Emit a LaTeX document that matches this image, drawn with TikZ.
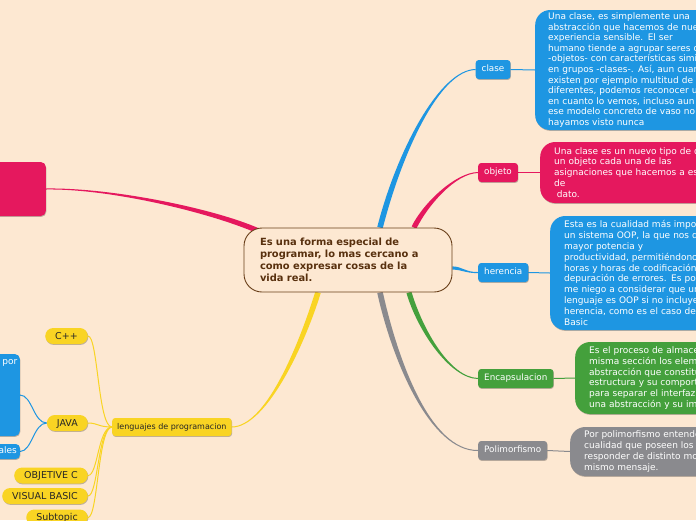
\documentclass[tikz,border=0pt]{standalone}
\usepackage{fontspec}
\setmainfont{DejaVu Sans}
\usetikzlibrary{calc,shadows}
\definecolor{bgc}{RGB}{253,232,210}
\definecolor{cblue}{RGB}{30,150,226}
\definecolor{cpink}{RGB}{229,24,94}
\definecolor{cgreen}{RGB}{68,160,60}
\definecolor{cgray}{RGB}{138,138,142}
\definecolor{cyel}{RGB}{249,212,35}
\definecolor{cbrown}{RGB}{105,62,25}
\definecolor{ctext}{RGB}{88,48,14}
\pgfdeclarelayer{back}
\pgfsetlayers{back,main}
\newcommand\mytaper[6]{%
  \path ($(#2)!#6!90:(#3)$) coordinate (tsl)
        ($(#2)!#6!-90:(#3)$) coordinate (tsr)
        ($(#5)!0.5pt!-90:(#4)$) coordinate (tel)
        ($(#5)!0.5pt!90:(#4)$) coordinate (ter);
  \fill[#1] (tsl) .. controls ($(#3)+(tsl)-(#2)$) and ($(#4)+(tel)-(#5)$) .. (tel)
    -- (ter) .. controls ($(#4)+(ter)-(#5)$) and ($(#3)+(tsr)-(#2)$) .. (tsr) -- cycle;
}
\tikzset{
  shad/.style={drop shadow={shadow xshift=0.5pt,shadow yshift=-0.9pt,opacity=0.25,fill=black}},
  lab/.style={rounded corners=3pt, text=white, font=\fontsize{8.8}{10}\selectfont,
    inner xsep=6pt, inner ysep=0pt, minimum height=19pt, text height=6.2pt, text depth=1.8pt, anchor=west, shad},
  desc/.style={rounded corners=15pt, text=white, align=left, inner xsep=14pt, inner ysep=1pt,
    anchor=west, font=\fontsize{9}{10.9}\selectfont, text width=190pt, shad},
  pill/.style={fill=cyel, rounded corners=8pt, minimum height=16pt, inner xsep=10pt, inner ysep=0pt,
    text height=6.6pt, text depth=0pt, anchor=east, font=\fontsize{9.5}{10}\selectfont, text=black!85, shad},
  thin/.style={line width=1pt},
}
\begin{document}
\begin{tikzpicture}[x=1pt,y=-1pt]
\useasboundingbox (0,0) rectangle (696,520);
\clip (0,0) rectangle (696,520);
\begin{pgfonlayer}{back}
\fill[bgc] (0,0) rectangle (696,520);
\end{pgfonlayer}

% central node
\node[draw=cbrown, line width=0.9pt, fill=bgc, rounded corners=18pt, minimum width=208pt,
  minimum height=64pt, text width=176pt, inner xsep=16pt, align=left,
  font=\bfseries\fontsize{9.9}{12.2}\selectfont, text=ctext] (C) at (348,260)
  {Es una forma especial de\\programar, lo mas cercano a\\como expresar cosas de la\\vida real.};

% right labels
\node[lab, fill=cblue] (K1) at (475.5,69.5) {clase};
\node[lab, fill=cpink] (K2) at (478,172.5) {objeto};
\node[lab, fill=cblue] (K3) at (478,272.5) {herencia};
\node[lab, fill=cgreen] (K4) at (478,378.5) {Encapsulacion};
\node[lab, fill=cgray] (K5) at (478,450.5) {Polimorfismo};

% descriptions
\node[desc, fill=cblue, minimum height=120pt, inner xsep=13pt, font=\fontsize{9}{10.55}\selectfont] (D1) at (535,70)
 {Una clase, es simplemente una\\abstracción que hacemos de nuestra\\experiencia sensible. El ser\\humano tiende a agrupar seres o cosas\\-objetos- con características similares\\en grupos -clases-. Así, aun cuando\\existen por ejemplo multitud de vasos\\diferentes, podemos reconocer un vaso\\en cuanto lo vemos, incluso aun cuando\\ese modelo concreto de vaso no lo\\hayamos visto nunca};
\node[desc, fill=cpink, minimum height=61pt] (D2) at (540,172.5)
 {Una clase es un nuevo tipo de dato y\\un objeto cada una de las\\asignaciones que hacemos a ese tipo\\de\\\hspace*{2.6pt}dato.};
\node[desc, fill=cblue, minimum height=114pt] (D3) at (550,273)
 {Esta es la cualidad más importante de\\un sistema OOP, la que nos dará\\mayor potencia y\\productividad, permitiéndonos ahorrar\\horas y horas de codificación y de\\depuración de errores. Es por ello que\\me niego a considerar que un\\lenguaje es OOP si no incluye\\herencia, como es el caso de Visual\\Basic};
\node[desc, fill=cgreen, minimum height=72pt] (D4) at (575,378)
 {Es el proceso de almacenar en una\\misma sección los elementos de una\\abstracción que constituyen su\\estructura y su comportamiento; sirve\\para separar el interfaz contractual de\\una abstracción y su implantación.};
\node[desc, fill=cgray, minimum height=49pt] (D5) at (570,451.5)
 {Por polimorfismo entendemos aquella\\cualidad que poseen los objetos para\\responder de distinto modo ante el\\mismo mensaje.};

% left side
\node[fill=cpink, rounded corners=5pt, minimum width=90pt, minimum height=54pt, anchor=east, shad] (P) at (46,189) {};
\node[fill=cyel, rounded corners=3pt, anchor=west, minimum height=18pt, inner xsep=5pt, inner ysep=0pt,
  text height=6pt, text depth=1.8pt, font=\fontsize{8}{10}\selectfont, text=black!85, shad] (L) at (112,427) {lenguajes de programacion};
\node[pill] (Y1) at (88,336) {C++};
\node[pill] (Y2) at (88,423) {JAVA};
\node[pill] (Y3) at (88,475.5) {OBJETIVE C};
\node[pill] (Y4) at (88,496) {VISUAL BASIC};
\node[pill] (Y5) at (88,517.5) {Subtopic};
\node[fill=cblue, rounded corners=5pt, minimum width=90pt, minimum height=82pt, anchor=east, shad] (J1) at (20,395) {};
\node[text=white, anchor=east, inner sep=0pt, font=\fontsize{9}{10}\selectfont] (J1t) at (17.5,363) {por};
\node[fill=cblue, rounded corners=4pt, anchor=east, minimum height=15pt, text width=74pt, align=right,
  inner xsep=3pt, inner ysep=0pt, text height=6pt, text depth=1.5pt, text=white,
  font=\fontsize{9}{10}\selectfont, shad] (J2) at (20,451.5) {ales};

% connectors
\coordinate (s1) at ($(C.north)+(32,0)$);
\coordinate (s2) at ($(C.north)+(66,0)$);
\coordinate (s3) at ($(C.east)+(0,8)$);
\coordinate (s4) at ($(C.south)+(61,0)$);
\coordinate (s5) at ($(C.south)+(32,0)$);
\coordinate (s6) at ($(C.south)+(-30,0)$);
\coordinate (s7) at ($(C.north west)+(14,3)$);
\begin{pgfonlayer}{back}
\mytaper{cblue}{s1}{400,150}{440,70}{K1.west}{2.8pt}
\mytaper{cpink}{s2}{425,205}{455,173}{K2.west}{2.6pt}
\mytaper{cblue}{s3}{462,268}{466,273}{K3.west}{1.6pt}
\mytaper{cgreen}{s4}{420,330}{450,378}{K4.west}{2.6pt}
\mytaper{cgray}{s5}{395,360}{430,451}{K5.west}{2.8pt}
\mytaper{cyel}{s6}{300,350}{265,427}{L.east}{2.8pt}
\mytaper{cpink}{s7}{210,210}{110,188}{P.east}{2.6pt}
\draw[cblue, thin] (K1.east) -- (D1.west);
\draw[cpink, thin] (K2.east) -- (D2.west);
\draw[cblue, thin] (K3.east) -- (D3.west);
\draw[cgreen, thin] (K4.east) -- (D4.west);
\draw[cgray, thin] (K5.east) -- (D5.west);
\draw[cyel, thin] (L.west) .. controls +(-14,0) and +(10,0) .. (Y1.east);
\draw[cyel, thin] (L.west) .. controls +(-14,0) and +(10,0) .. (Y2.east);
\draw[cyel, thin] (L.west) .. controls +(-14,0) and +(10,0) .. (Y3.east);
\draw[cyel, thin] (L.west) .. controls +(-14,0) and +(10,0) .. (Y4.east);
\draw[cyel, thin] (L.west) .. controls +(-14,0) and +(10,0) .. (Y5.east);
\draw[cblue, thin] (Y2.west) .. controls +(-13,0) and +(12,0) .. (J1.east);
\draw[cblue, thin] (Y2.west) .. controls +(-13,0) and +(12,0) .. (J2.east);
\end{pgfonlayer}
\end{tikzpicture}
\end{document}
